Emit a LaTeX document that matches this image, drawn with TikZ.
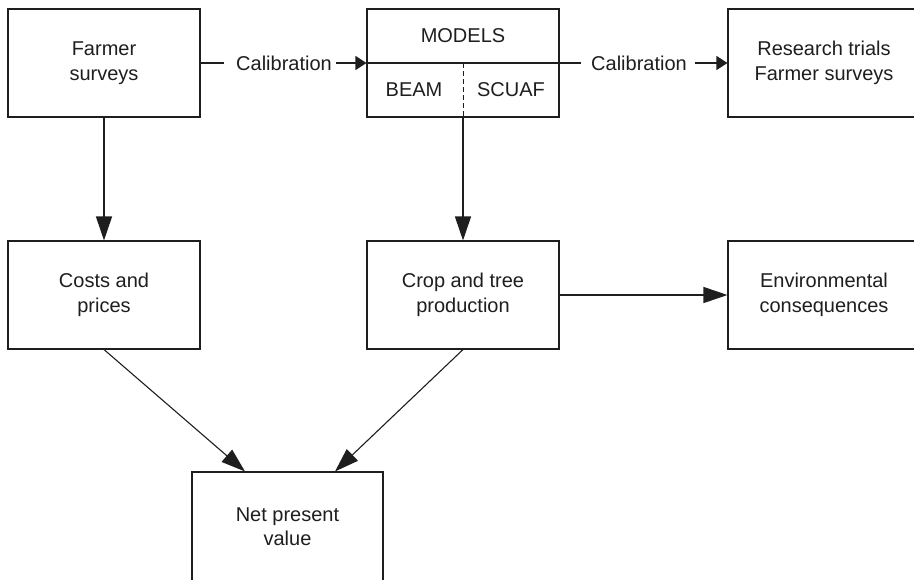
\documentclass[tikz,border=0pt]{standalone}
\usepackage{fontspec}
\setmainfont{Liberation Sans}
\usetikzlibrary{arrows.meta,calc}
\definecolor{ink}{RGB}{30,30,30}
\begin{document}
\begin{tikzpicture}[x=1pt,y=-1pt,
  box/.style={draw=ink, line width=1.1pt, minimum width=192pt, minimum height=108pt, inner sep=0pt, align=center, text=ink, font=\fontsize{20}{24.5}\selectfont},
  lbl/.style={inner sep=0pt, text=ink, font=\fontsize{20}{24.5}\selectfont},
  conn/.style={draw=ink, line width=1.1pt},
  big/.style={conn, -{Triangle[length=24pt,width=16pt]}},
  small/.style={conn, -{Triangle[length=11pt,width=14pt]}},
]
\useasboundingbox (0,0) rectangle (914,579);
\clip (0,0) rectangle (914,579);
\node[box] (farmer) at (104,63) {Farmer\\surveys};
\node[box] (models) at (463,63) {};
\node[box] (research) at (824,63) {Research trials\\Farmer surveys};
\node[box] (costs) at (104,295) {Costs and\\prices};
\node[box] (crop) at (463,295) {Crop and tree\\production};
\node[box] (env) at (824,295) {Environmental\\consequences};
\node[box, minimum width=191pt, minimum height=109pt] (net) at (287.5,526.5) {Net present\\value};
\node[lbl] (mtitle) at (463,36) {MODELS};
\node[lbl] (beam) at (414,90) {BEAM};
\node[lbl] (scuaf) at (511,90) {SCUAF};
\node[lbl] (cal1) at (284,63) {Calibration};
\node[lbl] (cal2) at (639,63) {Calibration};
\draw[conn] (farmer.east) -- ([xshift=-12pt]cal1.west);
\draw[small] ([xshift=4pt]cal1.east) -- (models.west);
\draw[conn] (models.west) -- ([xshift=-10pt]cal2.west);
\draw[small] ([xshift=8pt]cal2.east) -- (research.west);
\draw[big] (farmer.south) -- (costs.north);
\draw[conn, line width=1pt, dash pattern=on 5pt off 3pt] (models.center) -- (models.south);
\draw[big] (models.south) -- (crop.north);
\draw[big] (crop.east) -- (env.west);
\draw[big] (costs.south) -- ([xshift=-42.5pt]net.north);
\draw[big] (crop.south) -- ([xshift=47.5pt]net.north);
\end{tikzpicture}
\end{document}
